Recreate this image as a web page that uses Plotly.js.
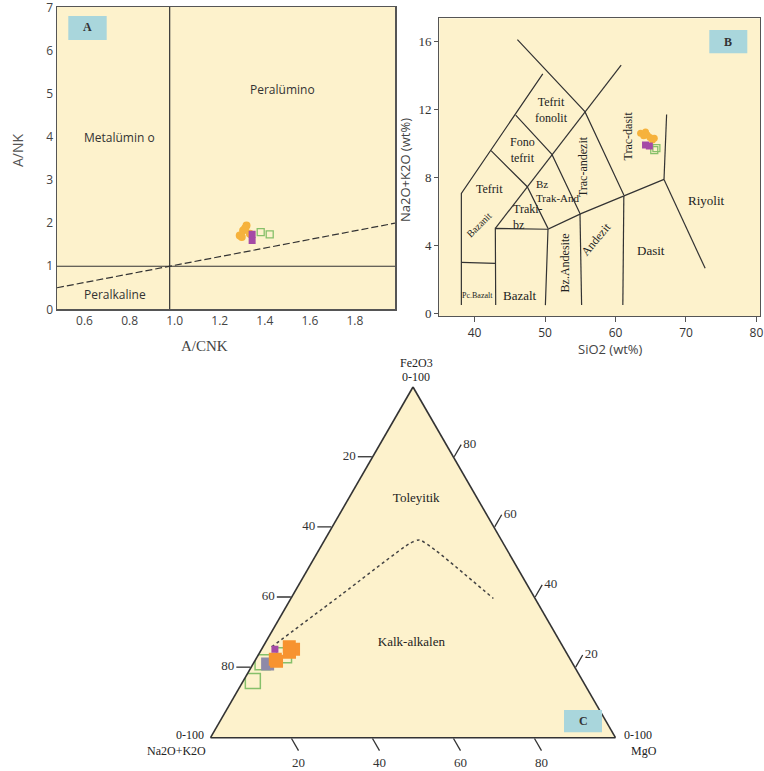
<!DOCTYPE html>
<html><head><meta charset="utf-8">
<script src="https://cdn.plot.ly/plotly-3.0.1.min.js"></script>
<style>html,body{margin:0;padding:0;background:#fff}#plot{width:764px;height:771px}</style>
</head><body><div id="plot"></div>
<script>
// ---------- Panel A data (A/CNK vs A/NK) ----------
const aTickVals = [0.6, 0.8, 1.0, 1.2, 1.4, 1.6, 1.8];
const aTickText = ['0.6', '0.8', '1.0', '1.2', '1.4', '1.6', '1.8'];
const aYTicks = [0, 1, 2, 3, 4, 5, 6, 7];
const aOrangeX = [1.311, 1.326, 1.341, 1.356, 1.320, 1.335];
const aOrangeY = [1.716, 1.831, 1.947, 1.755, 1.680, 1.880];
const aPurpleX = [1.366, 1.366];
const aPurpleY = [1.740, 1.600];
const aGreenX = [1.404, 1.444];
const aGreenY = [1.790, 1.740];
const aDiagX = [0.5, 2.0];
const aDiagY = [0.5, 2.0];
const aVertX = [1.0, 1.0];
const aVertY = [0, 7.02];
const aHorX = [0.5, 2.0];
const aHorY = [1.0, 1.0];

// ---------- Panel B data (TAS) ----------
const bXTicks = [40, 50, 60, 70, 80];
const bYTicks = [0, 4, 8, 12, 16];
const bOrangeX = [63.56, 64.26, 64.50, 65.24, 65.50, 64.00, 64.90];
const bOrangeY = [10.60, 10.66, 10.49, 10.19, 10.30, 10.45, 10.35];
const bPurpleX = [64.26, 64.80];
const bPurpleY = [9.90, 9.84];
const bGreenX = [65.50, 65.80];
const bGreenY = [9.60, 9.72];
// TAS field boundaries
const tasL1x = [38.13, 38.13, 49.68];           const tasL1y = [0.49, 7.06, 14.08];
const tasL2x = [42.34, 47.48, 50.42];           const tasL2y = [9.57, 7.45, 5.00];
const tasL3x = [45.84, 50.98, 54.96];           const tasL3y = [11.66, 9.35, 5.88];
const tasL4x = [46.08, 55.66, 61.18];           const tasL4y = [16.10, 11.86, 6.96];
const tasL5x = [42.95, 60.80];                  const tasL5y = [5.00, 14.60];
const tasL6x = [43.00, 42.95, 50.42];           const tasL6y = [0.49, 5.00, 4.95];
const tasL7x = [38.13, 42.95];                  const tasL7y = [3.00, 2.94];
const tasL8x = [50.05, 50.42, 55.19, 61.18, 66.88]; const tasL8y = [0.49, 4.95, 5.88, 6.90, 7.88];
const tasL9x = [54.96, 55.19];                  const tasL9y = [5.88, 0.49];
const tasL10x = [61.18, 61.04];                 const tasL10y = [6.90, 0.49];
const tasL11x = [66.88, 67.25];                 const tasL11y = [7.88, 11.70];
const tasL12x = [66.88, 72.72];                 const tasL12y = [7.88, 2.65];

// ---------- Panel C data (AFM ternary: a=Fe2O3, b=Na2O+K2O, c=MgO) ----------
const cTickVals = [20, 40, 60, 80];
const cTickText = ['80', '60', '40', '20'];
const cOrangeA = [25.9, 25.2, 24.4, 22.4, 21.8];
const cOrangeB = [67.6, 66.9, 68.3, 72.8, 72.8];
const cOrangeC = [6.5, 7.9, 7.3, 4.8, 5.4];
const cPurpleA = [25.2];
const cPurpleB = [71.5];
const cPurpleC = [3.3];
const cGrayA = [21.0];
const cGrayB = [75.4];
const cGrayC = [3.6];
const cGreenA = [21.5, 16.2, 23.5];
const cGreenB = [76.4, 81.45, 70.1];
const cGreenC = [2.1, 2.35, 6.4];
const cLineA = [25.9, 40.6, 55.4, 56.4, 53.4, 39.7];
const cLineB = [71.95, 47.6, 23.1, 20.2, 17.7, 10.3];
const cLineC = [2.15, 11.8, 21.5, 23.4, 28.9, 50.0];
const cFieldText = ['Toleyitik', 'Kalk-alkalen'];
const cFieldA = [68.2, 27.1];
const cFieldB = [15.1, 36.85];
const cFieldC = [16.7, 36.05];

// ---------- styling ----------
const CREAM = '#fdf2cc';
const BOX = '#a9d6dc';
const ORANGE = '#f6b23c';
const ORANGE_C = '#f7932f';
const PURPLE = '#a54aa6';
const GREEN = '#86c06a';
const GRAY = '#8e8aa8';
const LINE = '#333';
const SERIF = 'Liberation Serif, Times New Roman, serif';
const SANS = 'Open Sans, Liberation Sans, sans-serif';
const W = 764, H = 771;
const px = v => v / W;
const py = v => 1 - v / H;

function seg(x, y, xa, ya, dash, w) {
  return {type: 'scatter', mode: 'lines', x: x, y: y, xaxis: xa, yaxis: ya,
    line: {color: LINE, width: w || 1.2, dash: dash || 'solid'}, hoverinfo: 'skip', showlegend: false};
}

const traces = [
  // Panel A lines
  seg(aVertX, aVertY, 'x', 'y'),
  seg(aHorX, aHorY, 'x', 'y'),
  seg(aDiagX, aDiagY, 'x', 'y', '7px,3px'),
  // Panel A points
  {type: 'scatter', mode: 'markers', x: aGreenX, y: aGreenY, xaxis: 'x', yaxis: 'y',
    marker: {color: GREEN, size: 7, symbol: 'square-open', line: {width: 1.3}}, showlegend: false},
  {type: 'scatter', mode: 'markers', x: aOrangeX, y: aOrangeY, xaxis: 'x', yaxis: 'y',
    marker: {color: ORANGE, size: 8, symbol: 'circle'}, showlegend: false},
  {type: 'scatter', mode: 'markers', x: aPurpleX, y: aPurpleY, xaxis: 'x', yaxis: 'y',
    marker: {color: PURPLE, size: 7, symbol: 'square'}, showlegend: false},
  // Panel B lines
  seg(tasL1x, tasL1y, 'x2', 'y2'), seg(tasL2x, tasL2y, 'x2', 'y2'), seg(tasL3x, tasL3y, 'x2', 'y2'),
  seg(tasL4x, tasL4y, 'x2', 'y2'), seg(tasL5x, tasL5y, 'x2', 'y2'), seg(tasL6x, tasL6y, 'x2', 'y2'),
  seg(tasL7x, tasL7y, 'x2', 'y2'), seg(tasL8x, tasL8y, 'x2', 'y2'), seg(tasL9x, tasL9y, 'x2', 'y2'),
  seg(tasL10x, tasL10y, 'x2', 'y2'), seg(tasL11x, tasL11y, 'x2', 'y2'), seg(tasL12x, tasL12y, 'x2', 'y2'),
  // Panel B points
  {type: 'scatter', mode: 'markers', x: bGreenX, y: bGreenY, xaxis: 'x2', yaxis: 'y2',
    marker: {color: GREEN, size: 7, symbol: 'square-open', line: {width: 1.3}}, showlegend: false},
  {type: 'scatter', mode: 'markers', x: bOrangeX, y: bOrangeY, xaxis: 'x2', yaxis: 'y2',
    marker: {color: ORANGE, size: 7, symbol: 'circle'}, showlegend: false},
  {type: 'scatter', mode: 'markers', x: bPurpleX, y: bPurpleY, xaxis: 'x2', yaxis: 'y2',
    marker: {color: PURPLE, size: 7, symbol: 'square'}, showlegend: false},
  // Panel C
  {type: 'scatterternary', mode: 'lines', a: cLineA, b: cLineB, c: cLineC,
    line: {color: '#444', width: 1.5, dash: 'dot', shape: 'spline', smoothing: 0.6}, hoverinfo: 'skip', showlegend: false},
  {type: 'scatterternary', mode: 'markers', a: cGreenA, b: cGreenB, c: cGreenC,
    marker: {symbol: 'square-open', size: 15, color: GREEN, line: {width: 1.5}}, showlegend: false},
  {type: 'scatterternary', mode: 'markers', a: cGrayA, b: cGrayB, c: cGrayC,
    marker: {symbol: 'square', size: 13, color: GRAY}, showlegend: false},
  {type: 'scatterternary', mode: 'markers', a: cOrangeA, b: cOrangeB, c: cOrangeC,
    marker: {symbol: 'square', size: 13, color: ORANGE_C}, showlegend: false},
  {type: 'scatterternary', mode: 'markers', a: cPurpleA, b: cPurpleB, c: cPurpleC,
    marker: {symbol: 'square', size: 7, color: PURPLE}, showlegend: false},
  {type: 'scatterternary', mode: 'text', a: cFieldA, b: cFieldB, c: cFieldC, text: cFieldText,
    textfont: {family: SERIF, size: 13, color: '#222'}, hoverinfo: 'skip', showlegend: false}
];

function dAnn(text, x, y, xr, yr, opts) {
  return Object.assign({text: text, x: x, y: y, xref: xr, yref: yr, showarrow: false,
    xanchor: 'center', yanchor: 'middle',
    font: {family: SERIF, size: 12, color: '#222'}}, opts || {});
}
function pAnn(text, x, y, opts) {
  return Object.assign({text: text, x: px(x), y: py(y), xref: 'paper', yref: 'paper', showarrow: false,
    xanchor: 'center', yanchor: 'middle',
    font: {family: SERIF, size: 12, color: '#222'}}, opts || {});
}

const annotations = [
  // Panel A labels
  dAnn('Metalümin o', 0.779, 3.99, 'x', 'y', {font: {family: SANS, size: 12, color: '#333'}}),
  dAnn('Peralümino', 1.501, 5.10, 'x', 'y', {font: {family: SANS, size: 12, color: '#333'}}),
  dAnn('Peralkaline', 0.757, 0.353, 'x', 'y', {font: {family: SANS, size: 12, color: '#333'}}),
  pAnn('<b>A</b>', 87.5, 27, {font: {family: SERIF, size: 12, color: '#333'}}),
  pAnn('A/NK', 18, 150, {textangle: -90, font: {family: SANS, size: 14, color: '#555'}}),
  pAnn('A/CNK', 204, 346, {font: {family: SERIF, size: 15, color: '#444'}}),
  // Panel B labels
  dAnn('Tefrit<br>fonolit', 50.98, 11.96, 'x2', 'y2'),
  dAnn('Fono<br>tefrit', 46.77, 9.58, 'x2', 'y2'),
  dAnn('Tefrit', 42.1, 7.29, 'x2', 'y2'),
  dAnn('Bz<br>Trak-And', 48.42, 7.19, 'x2', 'y2', {xanchor: 'left', align: 'left', font: {family: SERIF, size: 11, color: '#222'}}),
  dAnn('Traki-<br>bz', 45.15, 5.66, 'x2', 'y2', {xanchor: 'left', align: 'left'}),
  dAnn('Bazanit', 40.7, 5.2, 'x2', 'y2', {textangle: -45, font: {family: SERIF, size: 10, color: '#222'}}),
  dAnn('Trac-andezit', 55.43, 8.62, 'x2', 'y2', {textangle: -90}),
  dAnn('Trac-dasit', 61.74, 10.45, 'x2', 'y2', {textangle: -90}),
  dAnn('Riyolit', 72.96, 6.62, 'x2', 'y2', {font: {family: SERIF, size: 13, color: '#222'}}),
  dAnn('Dasit', 65.0, 3.72, 'x2', 'y2', {font: {family: SERIF, size: 13, color: '#222'}}),
  dAnn('Andezit', 57.29, 4.35, 'x2', 'y2', {textangle: -50}),
  dAnn('Bz.Andesite', 52.86, 2.95, 'x2', 'y2', {textangle: -90}),
  dAnn('Bazalt', 46.4, 1.08, 'x2', 'y2', {font: {family: SERIF, size: 13, color: '#222'}}),
  dAnn('Pc.Bazalt', 40.46, 1.08, 'x2', 'y2', {font: {family: SERIF, size: 8, color: '#222'}}),
  pAnn('<b>B</b>', 728.3, 41.7, {font: {family: SERIF, size: 12, color: '#333'}}),
  pAnn('Na2O+K2O (wt%)', 405, 170, {textangle: -90, font: {family: SANS, size: 13, color: '#444'}}),
  pAnn('SiO2 (wt%)', 610, 349, {font: {family: SANS, size: 13, color: '#444'}}),
  // Panel C labels
  pAnn('Fe2O3', 417, 363),
  pAnn('0-100', 416, 377),
  pAnn('0-100', 190, 735),
  pAnn('Na2O+K2O', 176, 751),
  pAnn('0-100', 638, 735),
  pAnn('MgO', 644, 751),
  pAnn('<b>C</b>', 583, 721, {font: {family: SERIF, size: 12, color: '#333'}})
];

const shapes = [
  {type: 'rect', xref: 'paper', yref: 'paper', x0: px(68.3), x1: px(106.7), y0: py(40), y1: py(16), fillcolor: BOX, line: {width: 0}, layer: 'above'},
  {type: 'rect', xref: 'paper', yref: 'paper', x0: px(709.3), x1: px(747.3), y0: py(53.3), y1: py(30), fillcolor: BOX, line: {width: 0}, layer: 'above'},
  {type: 'rect', xref: 'paper', yref: 'paper', x0: px(564), x1: px(602), y0: py(732.3), y1: py(710), fillcolor: BOX, line: {width: 0}, layer: 'above'}
];

const ternAxis = {
  tickmode: 'array', tickvals: cTickVals, ticktext: cTickText,
  ticks: 'outside', ticklen: 14, tickwidth: 1.3, tickcolor: LINE,
  showgrid: false, showline: true, linecolor: LINE, linewidth: 1.6,
  tickfont: {family: SERIF, size: 13, color: '#333'}, title: {text: ''}
};

const layout = {
  width: W, height: H,
  margin: {l: 0, r: 0, t: 0, b: 0},
  paper_bgcolor: '#fff', plot_bgcolor: CREAM,
  showlegend: false, hovermode: false,
  xaxis: {domain: [px(57), px(395)], range: [0.5, 2.0], tickmode: 'array', tickvals: aTickVals, ticktext: aTickText,
    showline: true, mirror: true, linecolor: '#555', linewidth: 1.5, showgrid: false, zeroline: false, ticks: '',
    ticklabelshift: 5, tickfont: {family: SANS, size: 12, color: '#444'}, anchor: 'y'},
  yaxis: {domain: [py(309.3), py(7)], range: [0, 7.02], tickmode: 'array', tickvals: aYTicks,
    showline: true, mirror: true, linecolor: '#555', linewidth: 1.5, showgrid: false, zeroline: false, ticks: '',
    ticklabeloverflow: 'allow',
    tickfont: {family: SANS, size: 12, color: '#444'}, anchor: 'x'},
  xaxis2: {domain: [px(439.3), px(760)], range: [35, 80.5], tickmode: 'array', tickvals: bXTicks,
    showline: true, mirror: true, linecolor: '#555', linewidth: 1.3, showgrid: false, zeroline: false,
    ticks: 'outside', ticklen: 5, tickcolor: '#555', tickfont: {family: SANS, size: 12, color: '#333'}, anchor: 'y2'},
  yaxis2: {domain: [py(316), py(18.3)], range: [-0.15, 17.35], tickmode: 'array', tickvals: bYTicks,
    showline: true, mirror: true, linecolor: '#555', linewidth: 1.3, showgrid: false, zeroline: false,
    ticks: 'outside', ticklen: 4, tickcolor: '#555', tickfont: {family: SERIF, size: 13, color: '#333'}, anchor: 'x2'},
  ternary: {
    sum: 100,
    domain: {x: [px(210.5), px(615.5)], y: [py(737.7), py(387)]},
    bgcolor: CREAM,
    aaxis: ternAxis, baxis: ternAxis, caxis: ternAxis
  },
  annotations: annotations,
  shapes: shapes
};

Plotly.newPlot('plot', traces, layout, {staticPlot: true, displayModeBar: false});
</script>
</body></html>
